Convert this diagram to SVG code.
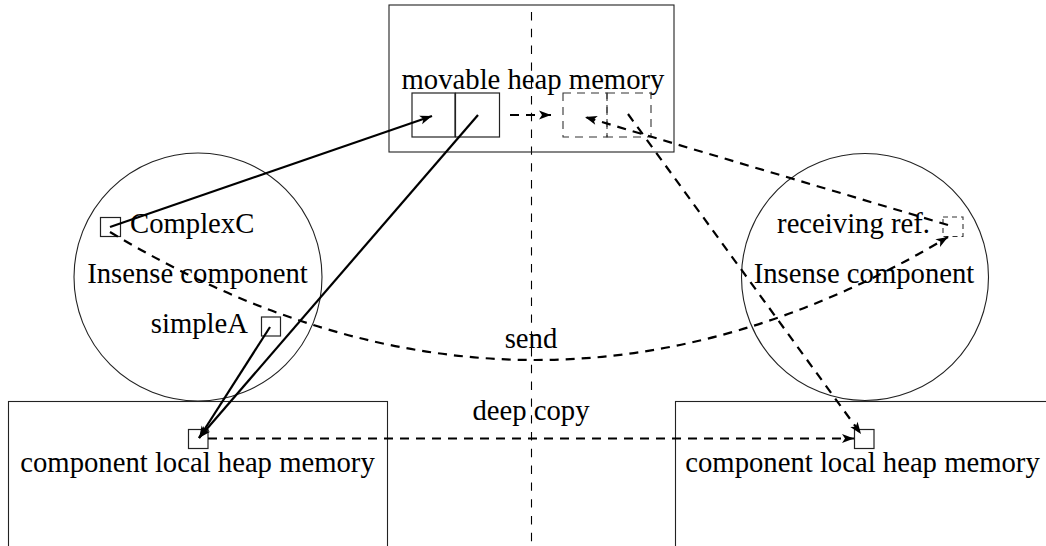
<svg xmlns="http://www.w3.org/2000/svg" width="1046" height="546" viewBox="0 0 1046 546">
  <style>
    .frame { fill: none; stroke: #222; stroke-width: 1.1; }
    .cell { fill: none; stroke: #222; stroke-width: 1.2; }
    .cell-dash { fill: none; stroke: #333; stroke-width: 1.1; stroke-dasharray: 8 6; }
    .ref-dash { fill: none; stroke: #333; stroke-width: 1.1; stroke-dasharray: 5 4; }
    .divider { fill: none; stroke: #000; stroke-width: 1.1; stroke-dasharray: 8.4 8.4; }
    .solid { fill: none; stroke: #000; stroke-width: 2.2; marker-end: url(#head); }
    .dashed { fill: none; stroke: #000; stroke-width: 2.2; stroke-dasharray: 9 7; marker-end: url(#head); }
    text { font-family: "Liberation Serif", "Times New Roman", serif; font-size: 28.7px; fill: #000; }
  </style>
  <defs>
    <marker id="head" markerUnits="userSpaceOnUse" markerWidth="14" markerHeight="10" refX="12" refY="4.5" orient="auto" overflow="visible">
      <path d="M0,0 L12,4.5 L0,9 L3,4.5 Z" fill="#000" stroke="none"/>
    </marker>
  </defs>

  <rect width="1046" height="546" fill="#fff"/>

  <!-- vertical separator between the two sides -->
  <g id="divider">
    <line class="divider" x1="531.5" y1="12" x2="531.5" y2="546"/>
  </g>

  <!-- shared movable heap -->
  <g id="movable-heap">
    <rect class="frame" x="389" y="5" width="285" height="147"/>
    <text x="533" y="89" text-anchor="middle">movable heap memory</text>
    <rect class="cell" x="412" y="93" width="43" height="44"/>
    <rect class="cell" x="455.5" y="93" width="44" height="44"/>
    <rect class="cell-dash" x="563" y="93" width="44" height="44"/>
    <rect class="cell-dash" x="607" y="93" width="44" height="44"/>
  </g>

  <!-- sending component -->
  <g id="insense-left">
    <circle class="frame" cx="198" cy="277" r="124"/>
    <text x="197.5" y="283" text-anchor="middle">Insense component</text>
  </g>
  <g id="complex-c">
    <rect class="cell" x="100.5" y="217.5" width="20" height="19"/>
    <text x="130" y="233">ComplexC</text>
  </g>
  <g id="simple-a">
    <rect class="cell" x="261.5" y="317" width="19" height="19"/>
    <text x="248" y="333" text-anchor="end">simpleA</text>
  </g>

  <!-- receiving component -->
  <g id="insense-right">
    <circle class="frame" cx="865" cy="277" r="123.5"/>
    <text x="864" y="283" text-anchor="middle">Insense component</text>
  </g>
  <g id="receiving-ref">
    <rect class="ref-dash" x="943" y="217" width="20" height="19.5"/>
    <text x="930" y="233" text-anchor="end">receiving ref.</text>
  </g>

  <!-- local heaps -->
  <g id="local-heap-left">
    <rect class="frame" x="8.5" y="401.5" width="379" height="160"/>
    <rect class="cell" x="188.5" y="429.5" width="19.5" height="19"/>
    <text x="197.5" y="471.5" text-anchor="middle">component local heap memory</text>
  </g>
  <g id="local-heap-right">
    <rect class="frame" x="675.5" y="401.5" width="400" height="160"/>
    <rect class="cell" x="854.5" y="429.5" width="19.5" height="19"/>
    <text x="862.5" y="471.5" text-anchor="middle">component local heap memory</text>
  </g>

  <!-- references, send and copy operations -->
  <g id="connectors">
    <line class="solid" x1="110" y1="227" x2="432" y2="116"/>
    <line class="solid" x1="478" y1="115" x2="199" y2="438"/>
    <line class="solid" x1="270" y1="327" x2="199" y2="438"/>
    <line class="dashed" x1="510" y1="115" x2="551" y2="115"/>
    <line class="dashed" x1="948" y1="225" x2="585" y2="117"/>
    <line class="dashed" x1="628" y1="114" x2="861" y2="434"/>
    <path class="dashed" d="M110,232 Q533,485.5 948,237"/>
    <line class="dashed" x1="208" y1="438.5" x2="854" y2="438.5"/>
    <text x="531" y="348" text-anchor="middle">send</text>
    <text x="531" y="420" text-anchor="middle">deep copy</text>
  </g>
</svg>
